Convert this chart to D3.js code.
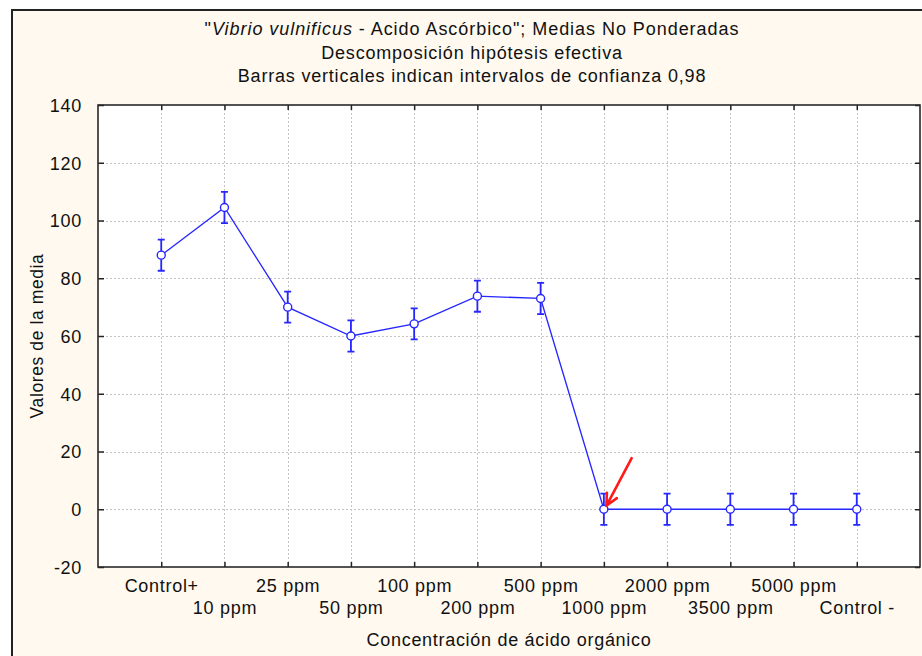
<!DOCTYPE html>
<html>
<head>
<meta charset="utf-8">
<script src="https://cdn.jsdelivr.net/npm/d3@7"></script>
<style>
  html, body { margin: 0; padding: 0; background: #fff; }
  svg text { font-family: "Liberation Sans", Arial, sans-serif; fill: #111; }
</style>
</head>
<body>
<div id="chart"></div>
<script>
// Data
const categories = ['Control+', '10 ppm', '25 ppm', '50 ppm', '100 ppm', '200 ppm', '500 ppm',
                    '1000 ppm', '2000 ppm', '3500 ppm', '5000 ppm', 'Control -'];
const means = [88, 104.5, 70, 60, 64.2, 73.8, 73, 0, 0, 0, 0, 0];
const ciHalf = [5.4, 5.4, 5.4, 5.4, 5.4, 5.4, 5.4, 5.4, 5.4, 5.4, 5.4, 5.4];
const yTicks = [-20, 0, 20, 40, 60, 80, 100, 120, 140];
const titleLines = [
    'Descomposición hipótesis efectiva',
    'Barras verticales indican intervalos de confianza 0,98'
];
const xTitle = 'Concentración de ácido orgánico';
const yTitle = 'Valores de la media';
// red arrow: [category index offset, value] for tail and tip
const arrowTail = [7.44, 17.7];
const arrowTip = [7.04, 1.2];

const W = 922, H = 656;
const plot = { left: 98, right: 920, top: 105, bottom: 567 };
const blue = '#2626ff';

const svg = d3.select('#chart').append('svg')
    .attr('width', W)
    .attr('height', H);

// Frame background
svg.append('rect')
    .attr('x', 12).attr('y', 10)
    .attr('width', W).attr('height', H)
    .style('fill', '#fff9ef')
    .style('stroke', '#222')
    .style('stroke-width', 2);

// Scales
const x = d3.scalePoint()
    .domain(categories)
    .range([plot.left, plot.right])
    .padding(1);

const y = d3.scaleLinear()
    .domain([-20, 140])
    .range([plot.bottom, plot.top]);

const xi = v => plot.left + x.step() * (1 + v);

// Plot area
svg.append('rect')
    .attr('x', plot.left).attr('y', plot.top)
    .attr('width', plot.right - plot.left)
    .attr('height', plot.bottom - plot.top)
    .style('fill', '#fff');

// Grid
const grid = svg.append('g').attr('class', 'grid')
    .style('stroke', '#c4c4c4')
    .style('stroke-width', 1)
    .style('stroke-dasharray', '2,2');

grid.selectAll('.hgrid')
    .data(yTicks.filter(d => d > -20 && d < 140))
    .enter().append('line')
    .attr('x1', plot.left).attr('x2', plot.right)
    .attr('y1', d => Math.round(y(d)) + 0.5)
    .attr('y2', d => Math.round(y(d)) + 0.5);

grid.selectAll('.vgrid')
    .data(categories)
    .enter().append('line')
    .attr('y1', plot.top).attr('y2', plot.bottom)
    .attr('x1', d => Math.round(x(d)) + 0.5)
    .attr('x2', d => Math.round(x(d)) + 0.5);

// Axes (ticks pointing inward on all four sides)
const tickFont = g => g.selectAll('text')
    .style('font-size', '18px')
    .style('letter-spacing', '0.7px')
    .style('fill', '#111');

const axisStyle = g => {
    g.select('.domain').remove();
    g.selectAll('.tick line').style('stroke', '#222').style('stroke-width', 1.5);
};

svg.append('g')
    .attr('transform', `translate(${plot.left},0)`)
    .call(d3.axisLeft(y).tickValues(yTicks).tickFormat(d => String(d))
        .tickSizeInner(-6).tickSizeOuter(0).tickPadding(16))
    .call(axisStyle)
    .call(tickFont)
    .call(g => g.selectAll('text').attr('dy', '0.36em'));

svg.append('g')
    .attr('transform', `translate(${plot.right},0)`)
    .call(d3.axisRight(y).tickValues(yTicks).tickSizeInner(-5).tickSizeOuter(0).tickFormat(''))
    .call(axisStyle);

svg.append('g')
    .attr('transform', `translate(0,${plot.bottom})`)
    .call(d3.axisBottom(x).tickSizeInner(-5).tickSizeOuter(0).tickPadding(0))
    .call(axisStyle)
    .call(tickFont)
    .call(g => g.selectAll('text')
        .attr('y', (d, i) => i % 2 === 0 ? 25 : 47)
        .attr('dy', 0));

svg.append('g')
    .attr('transform', `translate(0,${plot.top})`)
    .call(d3.axisTop(x).tickSizeInner(-5).tickSizeOuter(0).tickFormat(''))
    .call(axisStyle);

// Plot border
svg.append('rect')
    .attr('x', plot.left).attr('y', plot.top)
    .attr('width', plot.right - plot.left)
    .attr('height', plot.bottom - plot.top)
    .style('fill', 'none')
    .style('stroke', '#2a2a2a')
    .style('stroke-width', 1.6);

// Titles
const title = svg.append('text')
    .attr('x', 472).attr('y', 35)
    .attr('text-anchor', 'middle')
    .style('font-size', '18px')
    .style('letter-spacing', '0.95px');
title.append('tspan').text('"');
title.append('tspan').style('font-style', 'italic').text('Vibrio vulnificus');
title.append('tspan').text(' - Acido Ascórbico"; Medias No Ponderadas');

svg.selectAll('.subtitle')
    .data(titleLines)
    .enter().append('text')
    .attr('class', 'subtitle')
    .attr('x', 472)
    .attr('y', (d, i) => 58.5 + i * 23.5)
    .attr('text-anchor', 'middle')
    .style('font-size', '18px')
    .style('letter-spacing', '0.8px')
    .text(d => d);

svg.append('text')
    .attr('x', (plot.left + plot.right) / 2)
    .attr('y', 646)
    .attr('text-anchor', 'middle')
    .style('font-size', '18px')
    .style('letter-spacing', '0.7px')
    .text(xTitle);

svg.append('text')
    .attr('transform', `translate(43,${(plot.top + plot.bottom) / 2}) rotate(-90)`)
    .attr('text-anchor', 'middle')
    .style('font-size', '17.5px')
    .style('letter-spacing', '0.6px')
    .text(yTitle);

// Series
const data = categories.map((c, i) => ({ cat: c, mean: means[i], ci: ciHalf[i] }));

const line = d3.line()
    .x(d => x(d.cat))
    .y(d => y(d.mean));

svg.append('path')
    .datum(data)
    .attr('d', line)
    .style('fill', 'none')
    .style('stroke', blue)
    .style('stroke-width', 1.3);

// Error bars
const eb = svg.append('g')
    .style('stroke', blue)
    .style('stroke-width', 1.8)
    .style('fill', 'none');

eb.selectAll('.err')
    .data(data)
    .enter().append('path')
    .attr('d', d => {
        const cx = x(d.cat), y1 = y(d.mean + d.ci), y2 = y(d.mean - d.ci);
        return `M${cx - 3.5},${y1}H${cx + 3.5}M${cx},${y1}V${y2}M${cx - 3.5},${y2}H${cx + 3.5}`;
    });

svg.selectAll('.dot')
    .data(data)
    .enter().append('circle')
    .attr('cx', d => x(d.cat))
    .attr('cy', d => y(d.mean))
    .attr('r', 4)
    .style('fill', '#fff')
    .style('stroke', blue)
    .style('stroke-width', 1.4);

// Red arrow annotation
const tail = [xi(arrowTail[0]), y(arrowTail[1])];
const tip = [xi(arrowTip[0]), y(arrowTip[1])];
const ang = Math.atan2(tip[1] - tail[1], tip[0] - tail[0]);
const headLen = 13, spread = 0.45;
const h1 = [tip[0] - headLen * Math.cos(ang - spread), tip[1] - headLen * Math.sin(ang - spread)];
const h2 = [tip[0] - headLen * Math.cos(ang + spread), tip[1] - headLen * Math.sin(ang + spread)];

svg.append('path')
    .attr('d', `M${tail}L${tip}M${h1}L${tip}L${h2}`)
    .style('fill', 'none')
    .style('stroke', '#ff1a1a')
    .style('stroke-width', 2.6)
    .style('stroke-linecap', 'round')
    .style('stroke-linejoin', 'round');
</script>
</body>
</html>
